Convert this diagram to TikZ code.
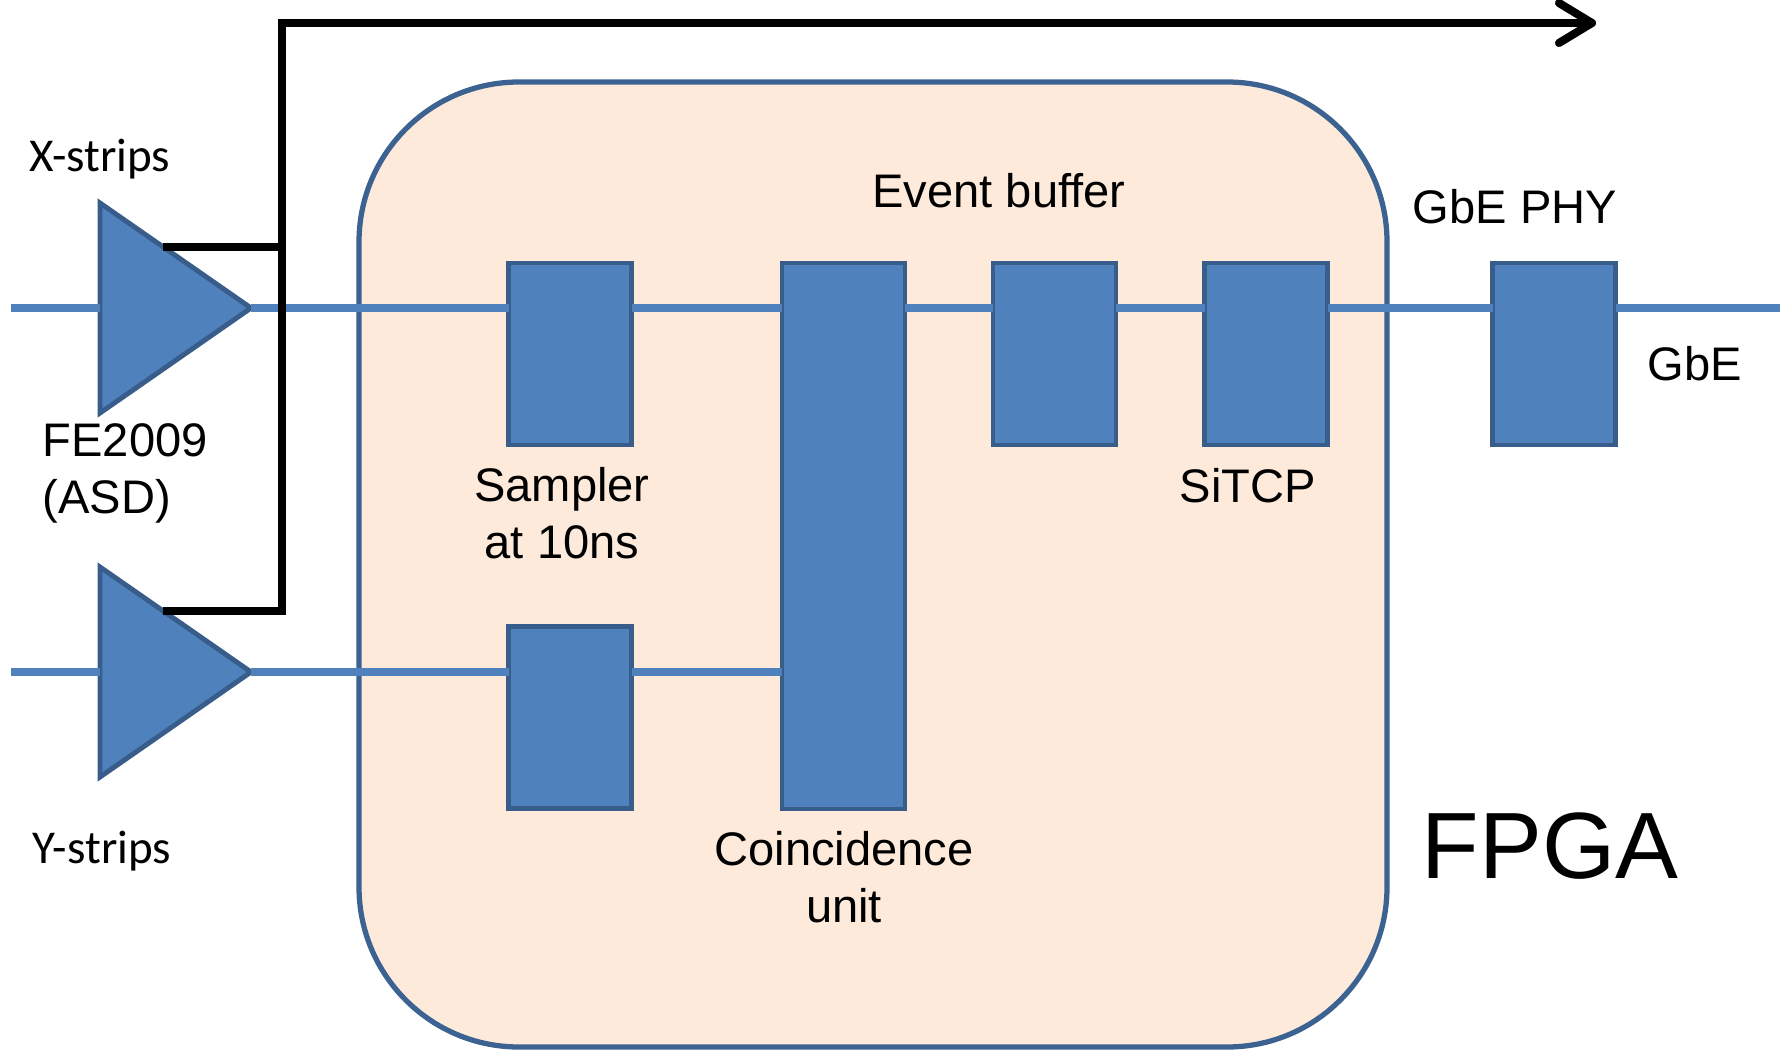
\documentclass[tikz,border=0pt]{standalone}
\usepackage{fontspec}
\setmainfont{Liberation Sans}
\newfontfamily\calibri{Carlito}
\usetikzlibrary{arrows.meta,positioning,calc,shapes.geometric}
\definecolor{BlockBlue}{RGB}{79,129,189}
\definecolor{BlockEdge}{RGB}{56,93,138}
\definecolor{FpgaFill}{RGB}{253,234,218}
\definecolor{FpgaEdge}{RGB}{60,98,146}
\tikzset{
  blk/.style={draw=BlockEdge,fill=BlockBlue,line width=1.4pt,minimum width=1.23cm,minimum height=1.82cm,inner sep=0pt,outer sep=0pt},
  amp/.style={isosceles triangle,isosceles triangle stretches,draw=BlockEdge,fill=BlockBlue,line width=1.4pt,minimum width=2.10cm,minimum height=1.51cm,inner sep=0pt,outer sep=0pt,anchor=apex},
  fpgabox/.style={draw=FpgaEdge,fill=FpgaFill,line width=1.5pt,rounded corners=1.6cm,inner sep=0pt},
  sig/.style={draw=BlockBlue,line width=2.1pt},
  trig/.style={draw=black,line width=2.3pt},
  lbl/.style={font=\fontsize{13.4}{16.2}\selectfont,inner sep=0pt,align=center,anchor=base},
  strip/.style={font=\calibri\fontsize{13.4}{16}\selectfont,inner sep=0pt,anchor=base}
}

\begin{document}
\begin{tikzpicture}
\useasboundingbox (0,0) rectangle (17.91,10.5);
% FPGA board
\node[fpgabox,minimum width=10.28cm,minimum height=9.65cm] (fpga) at (8.73,4.855) {};

\coordinate (inx) at (0.11,7.42);
\coordinate (iny) at (0.11,3.78);
\coordinate (outx) at (17.80,7.42);
\coordinate (bus) at (2.82,10.27);
\coordinate (trigout) at (15.96,10.27);

% amplifiers
\node[amp] (ampx) at (2.51,7.42) {};
\node[amp] (ampy) at (2.51,3.78) {};

% logic blocks
\node[blk] (smpx) at (5.70,6.96) {};
\node[blk] (smpy) at (5.70,3.325) {};
\node[blk,minimum height=5.46cm] (coin) at (8.435,5.14) {};
\node[blk] (evb) at (10.545,6.96) {};
\node[blk] (tcp) at (12.66,6.96) {};
\node[blk] (phy) at (15.54,6.96) {};

% signal lines
\draw[sig](inx)--(ampx.lower side);\draw[sig](ampx.apex)--(smpx.west |- inx);\draw[sig](smpx.east |- inx)--(coin.west |- inx);
\draw[sig](coin.east |- inx)--(evb.west |- inx);\draw[sig](evb.east |- inx)--(tcp.west |- inx);\draw[sig](tcp.east |- inx)--(phy.west |- inx);\draw[sig](phy.east |- inx)--(outx);
\draw[sig](iny)--(ampy.lower side);\draw[sig](ampy.apex)--(smpy.west |- iny);\draw[sig](smpy.east |- iny)--(coin.west |- iny);

% trigger out
\coordinate (tapx) at ($(ampx.left corner)!0.42!(ampx.apex)$);
\coordinate (tapy) at ($(ampy.left corner)!0.42!(ampy.apex)$);
\draw[trig](tapx)--(tapx -| bus);
\draw[trig,-{Straight Barb[length=3.3mm,width=4mm,round]}](tapy)-|(bus)--(trigout);

\node[strip] (xlab) at (1.00,8.78) {X-strips};
\node[strip] (ylab) at (1.02,1.87) {Y-strips};
\node[lbl,anchor=base west,align=left] (asdlab) at (0.42,5.37) {FE2009\\(ASD)};
\node[lbl] (smplab) at (5.62,4.92) {Sampler\\at 10ns};
\node[lbl] (evblab) at (9.99,8.43) {Event buffer};
\node[lbl] (coinlab) at (8.44,1.28) {Coincidence\\unit};
\node[lbl] (tcplab) at (12.48,5.48) {SiTCP};
\node[lbl] (phylab) at (15.15,8.27) {GbE PHY};
\node[lbl] (gbelab) at (16.95,6.70) {GbE};
\node[lbl,font=\fontsize{26.8}{32}\selectfont] (fpgalab) at (15.50,1.72) {FPGA};
\end{tikzpicture}
\end{document}
